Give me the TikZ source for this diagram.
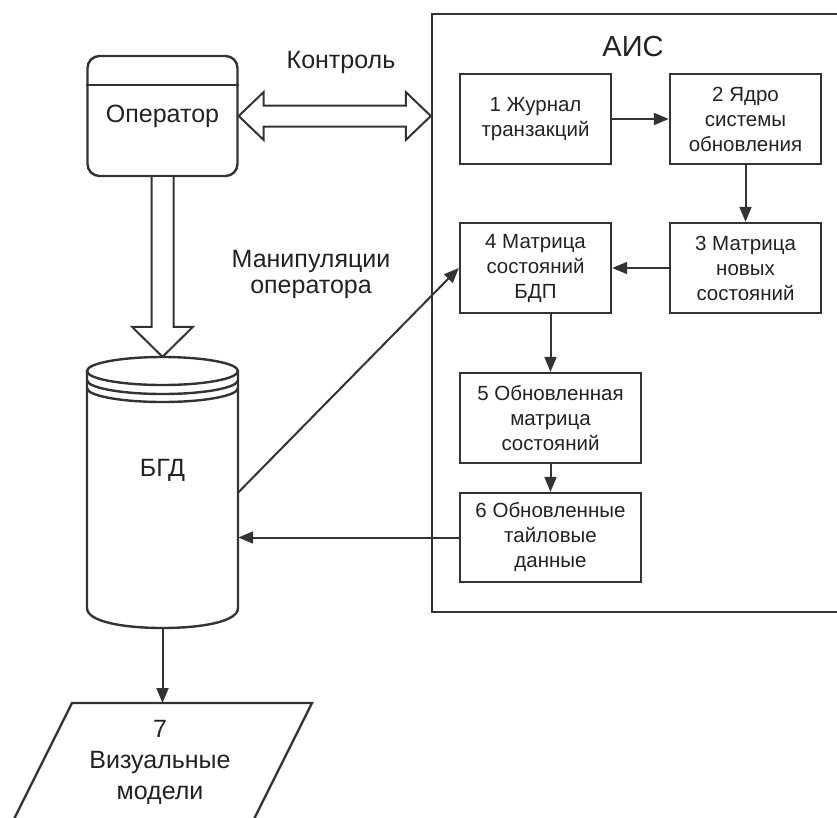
\documentclass[tikz,border=0pt]{standalone}
\usepackage{fontspec}
\setmainfont{Liberation Sans}
\usetikzlibrary{arrows.meta,calc}
\definecolor{linegray}{HTML}{333333}
\definecolor{textgray}{HTML}{222222}
\tikzset{
	outline/.style={draw=linegray, line width=2.4pt},
	block/.style={outline, minimum width=151pt, minimum height=90pt, inner sep=0pt, align=center, text=textgray},
	wideblock/.style={block, minimum width=181pt},
	flow/.style={draw=linegray, line width=2pt, -{Triangle[length=15pt,width=12pt]}},
	hollow/.style={draw=linegray, line width=2pt, fill=white},
	caption/.style={text=textgray, align=center, inner sep=0pt},
}
\begin{document}
\begin{tikzpicture}[x=1pt,y=-1pt]
					\newcommand{\myfontbox}{\fontsize{20.5}{25}\selectfont}
					\newcommand{\myfontlabel}{\fontsize{25}{26}\selectfont}
					\newcommand{\myfontvis}{\fontsize{25}{31}\selectfont}
					\newcommand{\myfontais}{\fontsize{29}{31}\selectfont}
					%Frame of the picture
					\clip (0,0) rectangle (837,817);
					%Operator
					\node [outline, rounded corners=12pt, minimum width=150pt, minimum height=120pt, inner sep=0pt, text=textgray, font=\myfontlabel] (operator) at (162.5,116) {Оператор};
					\draw [outline] ($(operator.north west)+(0,30)$) -- ($(operator.north east)+(0,30)$);
					%AIS frame and its title
					\node [outline, minimum width=430pt, minimum height=598pt, inner sep=0pt] (ais) at (647,313) {};
					\node [caption, font=\myfontais] (aislabel) at (633,47) {АИС};
					%Blocks inside the AIS
					\node [block, font=\myfontbox] (journal) at (535.5,119) {1 Журнал\\транзакций};
					\node [block, font=\myfontbox] (core) at (745.5,119) {2 Ядро\\системы\\обновления};
					\node [block, font=\myfontbox] (newstate) at (745.5,268) {3 Матрица\\новых\\состояний};
					\node [block, font=\myfontbox] (bdpstate) at (535.5,268) {4 Матрица\\состояний\\БДП};
					\node [wideblock, font=\myfontbox] (updstate) at (550.5,418) {5 Обновленная\\матрица\\состояний};
					\node [wideblock, minimum height=89pt, font=\myfontbox] (tiles) at (550.5,537.5) {6 Обновленные\\тайловые\\данные};
					%Cylinder of the database
					\node [minimum width=151pt, minimum height=271pt, inner sep=0pt] (bgd) at (162.5,492.5) {};
					\draw [outline] (87,371) -- (87,608) .. controls (87,622) and (125,628) .. (162.5,628) .. controls (200,628) and (238,622) .. (238,608) -- (238,371);
					\draw [outline] (162.5,371) ellipse [x radius=75.5pt, y radius=14pt];
					\draw [outline] (87,380) arc [start angle=180, end angle=360, x radius=75.5pt, y radius=14pt];
					\draw [outline] (87,388) arc [start angle=180, end angle=360, x radius=75.5pt, y radius=14pt];
					\node [caption, font=\myfontlabel] (bgdlabel) at (162.5,470) {БГД};
					%Visual models
					\coordinate (vistop) at (162.5,703);
					\draw [outline] (72,703) -- (312,703) -- (212,903) -- (-28,903) -- cycle;
					\node [caption, font=\myfontvis] (vis) at (160,762) {7\\Визуальные\\модели};
					%Labels of the wide arrows
					\node [caption, font=\myfontlabel] (control) at (341,62) {Контроль};
					\node [caption, font=\myfontlabel] (manip) at (311,274) {Манипуляции\\оператора};
					%Wide arrow between operator and AIS
					\coordinate (ctlR) at (ais.west |- operator.east);
					\draw [hollow] (operator.east) -- ++(25,-24) -- ++(0,13.5) -- ($(ctlR)+(-25,-10.5)$) -- ++(0,-13.5) -- (ctlR) -- ++(-25,24) -- ++(0,-13.5) -- ($(operator.east)+(25,10.5)$) -- ++(0,13.5) -- cycle;
					%Wide arrow from operator down to the database
					\draw [hollow] ($(operator.south)+(-11,0)$) -- ($(bgd.north)+(-11,-30)$) -- ++(-19.5,0) -- (bgd.north) -- ++(30.5,-30) -- ++(-19.5,0) -- ($(operator.south)+(11,0)$);
					%Flow inside the AIS
					\draw [flow] (journal) -- (core);
					\draw [flow] (core) -- (newstate);
					\draw [flow] (newstate) -- (bdpstate);
					\draw [flow] (updstate.north |- bdpstate.south) -- (updstate.north);
					\draw [flow] (updstate) -- (tiles);
					%Links with the database
					\draw [flow] (tiles.west) -- (tiles.west -| bgd.east);
					\draw [flow] (bgd.east) -- (bdpstate.west);
					\draw [flow] (bgd.south) -- (vistop);
\end{tikzpicture}
\end{document}
